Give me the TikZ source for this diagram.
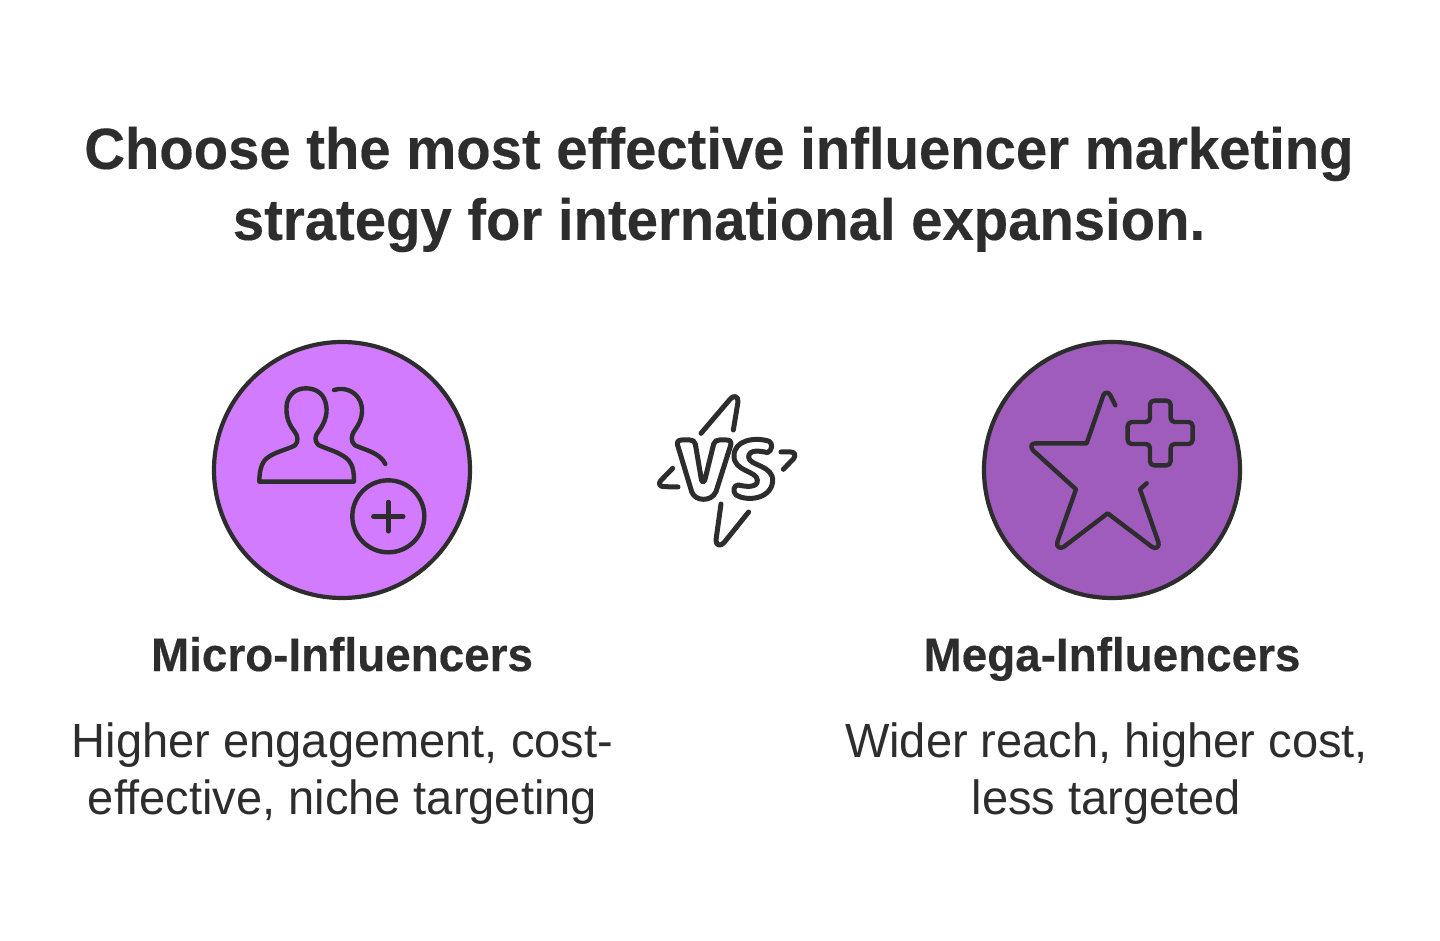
\documentclass[tikz,border=0pt]{standalone}
\usepackage{fontspec}
\setmainfont{Liberation Sans}
\newfontfamily\titlef[FakeStretch=0.97,FakeBold=0.3]{Liberation Sans Bold}
\newfontfamily\headf[FakeStretch=0.975,FakeBold=0.3]{Liberation Sans Bold}
\newfontfamily\bodyf[FakeStretch=0.98]{Liberation Sans}
\definecolor{ink}{HTML}{2D2D2D}
\definecolor{lilac}{HTML}{D27BFF}
\definecolor{plum}{HTML}{A05CBD}
\tikzset{
  disc/.style={circle,draw=ink,line width=4.2pt,minimum size=256pt,inner sep=0pt},
  icon/.style={draw=ink,line width=4.4pt,line cap=round,line join=round},
  vsicon/.style={icon,line width=5pt},
  titleline/.style={text=ink,font=\titlef\fontsize{58}{71}\selectfont,align=center,inner sep=0pt},
  headline/.style={text=ink,font=\headf\fontsize{47}{57}\selectfont,align=center,inner sep=0pt,text height=36pt,text depth=10pt},
  bodyline/.style={text=ink,font=\bodyf\fontsize{48}{57}\selectfont,align=center,inner sep=0pt},
  zoomed/.style={x=0.3333pt,y=-0.3333pt}
}
\begin{document}
\begin{tikzpicture}[x=1pt,y=-1pt]
\useasboundingbox (0,0) rectangle (1440,941);
\node[titleline] (title) at (719,189.5) {Choose the most effective influencer marketing\\strategy for international expansion.};
\node[disc,fill=lilac] (micro) at (342,470) {};
\node[disc,fill=plum] (mega) at (1112,470) {};
\node[headline] (microhead) at (342,658) {Micro-Influencers};
\node[headline] (megahead) at (1112,658) {Mega-Influencers};
\node[bodyline] (microbody) at (342.5,774) {Higher engagement, cost-\\effective, niche targeting};
\node[bodyline] (megabody) at (1106.5,774) {Wider reach, higher cost,\\less targeted};
% people icon
\begin{scope}[shift={(200,330)},zoomed]
\draw[icon] (178,455) -- (462,455) .. controls (462,420) and (458,395) .. (430,378)
  .. controls (405,362) and (375,355) .. (355,345)
  .. controls (342,332) and (345,318) .. (355,305)
  .. controls (378,275) and (385,245) .. (376,215)
  .. controls (368,188) and (345,175) .. (318,175)
  .. controls (290,175) and (270,190) .. (262,215)
  .. controls (255,245) and (262,278) .. (282,302)
  .. controls (295,318) and (296,335) .. (285,346)
  .. controls (265,358) and (225,365) .. (200,385)
  .. controls (182,400) and (178,430) .. (178,455) -- cycle;
\draw[icon] (402,180) .. controls (440,168) and (478,190) .. (485,228)
  .. controls (490,258) and (478,282) .. (465,300)
  .. controls (452,318) and (452,335) .. (465,346)
  .. controls (495,360) and (540,368) .. (556,402);
\draw[icon] (565,559) circle (108);
\draw[icon] (520,560) -- (610,560) (565,516) -- (565,604);
\end{scope}
% VS
\begin{scope}[shift={(640,380)},zoomed]
\draw[vsicon] (183,160) -- (270,58) .. controls (280,44) and (296,48) .. (294,66) -- (280,150);
\draw[vsicon] (243,372) -- (228,480) .. controls (227,497) and (242,500) .. (252,488) -- (326,396);
\draw[vsicon] (98,265) -- (62,302) .. controls (54,312) and (60,320) .. (72,320) -- (114,321);
\draw[vsicon] (423,216) -- (452,216) .. controls (465,216) and (468,226) .. (461,236) -- (430,268);
\draw[vsicon] (125,180) -- (150,180) .. controls (158,180) and (164,184) .. (166,192) -- (184,298)
  .. controls (186,308) and (192,308) .. (195,298)
  -- (221,192) .. controls (224,184) and (230,180) .. (238,180) -- (260,180)
  .. controls (270,180) and (275,186) .. (272,196) -- (228,335)
  .. controls (220,352) and (205,358) .. (190,358)
  .. controls (175,358) and (160,350) .. (155,335) -- (113,196)
  .. controls (110,186) and (115,180) .. (125,180) -- cycle;
\draw[vsicon] (388,184) .. controls (398,190) and (398,212) .. (382,218)
  .. controls (360,212) and (325,208) .. (326,232)
  .. controls (328,258) and (402,255) .. (398,305)
  .. controls (392,358) and (320,365) .. (288,345)
  .. controls (278,335) and (280,315) .. (295,315)
  .. controls (315,320) and (355,325) .. (352,300)
  .. controls (350,272) and (282,275) .. (282,228)
  .. controls (282,180) and (345,170) .. (388,184) -- cycle;
\end{scope}
% star icon
\begin{scope}[shift={(970,330)},zoomed]
\draw[icon] (436,226) -- (421,196) .. controls (415,185) and (405,185) .. (400,196)
  -- (350,340) -- (195,340) .. controls (183,340) and (180,352) .. (190,362)
  -- (318,478) -- (262,636) .. controls (258,652) and (270,658) .. (282,650)
  -- (413,550) -- (545,650) .. controls (558,660) and (570,650) .. (565,636)
  -- (510,478) -- (530,460);
\draw[icon,rounded corners=4pt] (540,212) -- (602,212) -- (602,276) -- (668,276) -- (668,342)
  -- (602,342) -- (602,406) -- (540,406) -- (540,342) -- (473,342) -- (473,276) -- (540,276) -- cycle;
\end{scope}
\end{tikzpicture}
\end{document}
